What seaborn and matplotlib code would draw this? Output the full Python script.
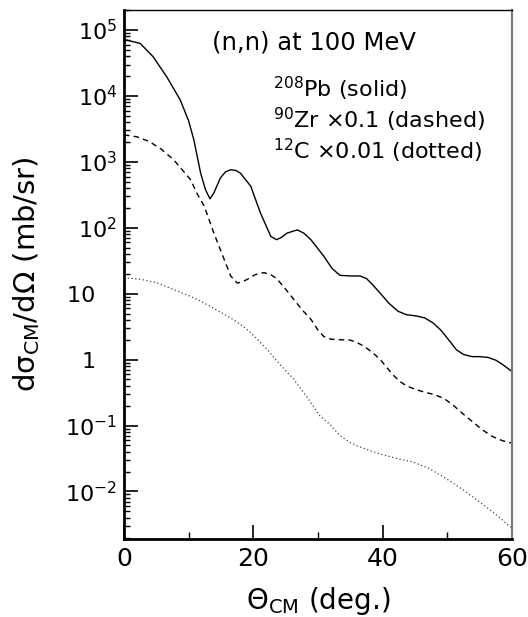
'''
(n,n) elastic differential cross sections at 100 MeV for Pb, Zr and C
'''

import matplotlib
matplotlib.use("Agg")
import matplotlib.pyplot as plt
import matplotlib.ticker as mticker
import seaborn as sns
import pandas as pd

# angles (deg) and cross sections (mb/sr)
theta_pb = [0, 2.5, 4.5, 6.6, 8.7, 10.0, 10.8, 11.85, 12.6, 13.3, 13.9, 14.9, 15.7, 16.5,
            17.3, 18.0, 19.6, 21.1, 22.7, 23.6, 24.4, 25.2, 26.8, 27.8, 28.9, 30.9, 32.2,
            33.4, 35.0, 36.5, 37.5, 38.5, 39.5, 41.0, 42.4, 43.7, 45.2, 46.5, 47.8, 49.0,
            50.2, 51.4, 52.5, 53.8, 55.0, 56.3, 57.5, 58.5, 59.4, 60.0]
xs_pb = [72000, 62700, 39400, 19600, 8700, 4170, 2160, 676, 378, 275, 339, 569, 708, 759,
         741, 676, 427, 168, 74, 66, 72, 83, 93, 83, 66, 37, 24,
         19, 18.6, 18.6, 17, 13.5, 10.5, 7.1, 5.4, 4.8, 4.6, 4.3, 3.6, 2.8,
         2.0, 1.41, 1.2, 1.11, 1.11, 1.08, 0.98, 0.85, 0.73, 0.66]

theta_zr = [0, 2.0, 3.9, 5.8, 7.7, 9.0, 10.3, 11.4, 12.4, 13.9, 15.5, 16.5, 17.5, 18.3,
            19.1, 20.3, 21.6, 22.7, 23.7, 25.0, 26.3, 27.6, 28.9, 30.0, 30.9, 32.0, 33.5,
            34.9, 36.0, 37.2, 38.5, 39.6, 41.5, 42.6, 43.7, 45.0, 46.5, 48.0, 49.5, 51.0,
            52.5, 54.0, 55.5, 57.0, 58.5, 60.0]
xs_zr = [2570, 2400, 2040, 1550, 1070, 760, 537, 316, 214, 83, 33, 18.6, 14.5, 15.1,
         16.6, 19.5, 20.9, 19.5, 16.6, 11.7, 8.1, 5.6, 4.1, 2.8, 2.24, 2.04, 2.0,
         1.99, 1.82, 1.58, 1.26, 1.01, 0.60, 0.47, 0.40, 0.355, 0.32, 0.295, 0.257, 0.20,
         0.148, 0.112, 0.085, 0.068, 0.059, 0.054]

theta_c = [0, 2.5, 5.1, 7.0, 10.3, 12.2, 15.0, 17.0, 19.0, 20.6, 22.1, 24.0, 26.2, 28.3,
           30.3, 31.8, 33.4, 35.0, 36.5, 39.6, 42.0, 44.7, 47.3, 49.9, 52.5, 55.0, 57.5,
           59.4, 60.0]
xs_c = [17.4, 16.6, 14.7, 12.3, 9.1, 7.4, 5.2, 4.0, 2.9, 2.04, 1.44, 0.87, 0.51, 0.27,
        0.14, 0.105, 0.070, 0.055, 0.047, 0.037, 0.032, 0.028, 0.022, 0.0155, 0.0105,
        0.0069, 0.0045, 0.0031, 0.0028]

y_decades = [1e-2, 1e-1, 1, 10, 1e2, 1e3, 1e4, 1e5]
y_labels = [r'$10^{-2}$', r'$10^{-1}$', '1   ', '10   ', r'$10^{2}$', r'$10^{3}$',
            r'$10^{4}$', r'$10^{5}$']
x_major = [0, 20, 40, 60]

sns.set_style("ticks")
plt.rcParams['font.family'] = ['DejaVu Sans']
plt.rcParams['mathtext.default'] = 'regular'
plt.rcParams['text.color'] = 'black'
plt.rcParams['xtick.color'] = 'black'
plt.rcParams['ytick.color'] = 'black'

fig = plt.figure(figsize=(5.28, 6.17), dpi=100)
ax = fig.add_axes([124 / 528, 1 - 539 / 617, 388 / 528, 529.5 / 617])
ax.set_yscale('log')

df_pb = pd.DataFrame({'theta': theta_pb, 'xs': xs_pb})
df_zr = pd.DataFrame({'theta': theta_zr, 'xs': xs_zr})
df_c = pd.DataFrame({'theta': theta_c, 'xs': xs_c})

sns.lineplot(data=df_pb, x='theta', y='xs', ax=ax, color='black', lw=1.0)
sns.lineplot(data=df_zr, x='theta', y='xs', ax=ax, color='black', lw=1.0,
             linestyle=(0, (4, 3)))
sns.lineplot(data=df_c, x='theta', y='xs', ax=ax, color='#444444', lw=0.9,
             linestyle=(0, (1, 2)))

ax.set_xlim(0, 60)
ax.set_ylim(1.9e-3, 2.05e5)

ax.set_xticks(x_major)
ax.xaxis.set_minor_locator(mticker.MultipleLocator(10))
ax.set_yticks(y_decades)
ax.set_yticklabels(y_labels)
ax.yaxis.set_minor_locator(mticker.LogLocator(base=10, subs=range(2, 10)))
ax.yaxis.set_minor_formatter(mticker.NullFormatter())

ax.tick_params(axis='both', which='both', direction='in', top=False, right=False)
ax.tick_params(axis='y', which='major', length=10, width=1.2, labelsize=16, pad=5)
ax.tick_params(axis='y', which='minor', length=4.5, width=1.0)
ax.tick_params(axis='x', which='major', length=10, width=1.2, labelsize=18, pad=6)
ax.tick_params(axis='x', which='minor', length=5, width=1.0)

for side, lw, col in [('left', 2, 'black'), ('bottom', 2, 'black'),
                      ('top', 1, 'black'), ('right', 1.5, '#777777')]:
    ax.spines[side].set_linewidth(lw)
    ax.spines[side].set_color(col)

ax.set_xlabel('')
ax.set_ylabel('')
ax.text(0.5, -0.118, r'Θ$_{CM}$ (deg.)', transform=ax.transAxes,
        ha='center', va='center', fontsize=20)
ax.text(-0.25, 0.5, r'dσ$_{CM}$/dΩ (mb/sr)', transform=ax.transAxes,
        ha='center', va='center', rotation=90, fontsize=21)

ax.text(0.227, 0.925, '(n,n) at 100 MeV', transform=ax.transAxes,
        ha='left', va='baseline', fontsize=17.5)
ax.text(0.383, 0.835, r'$^{208}$Pb (solid)', transform=ax.transAxes,
        ha='left', va='baseline', fontsize=16)
ax.text(0.383, 0.776, r'$^{90}$Zr ×0.1 (dashed)', transform=ax.transAxes,
        ha='left', va='baseline', fontsize=16)
ax.text(0.383, 0.717, r'$^{12}$C ×0.01 (dotted)', transform=ax.transAxes,
        ha='left', va='baseline', fontsize=16)

fig.savefig('out.png', dpi=100)
